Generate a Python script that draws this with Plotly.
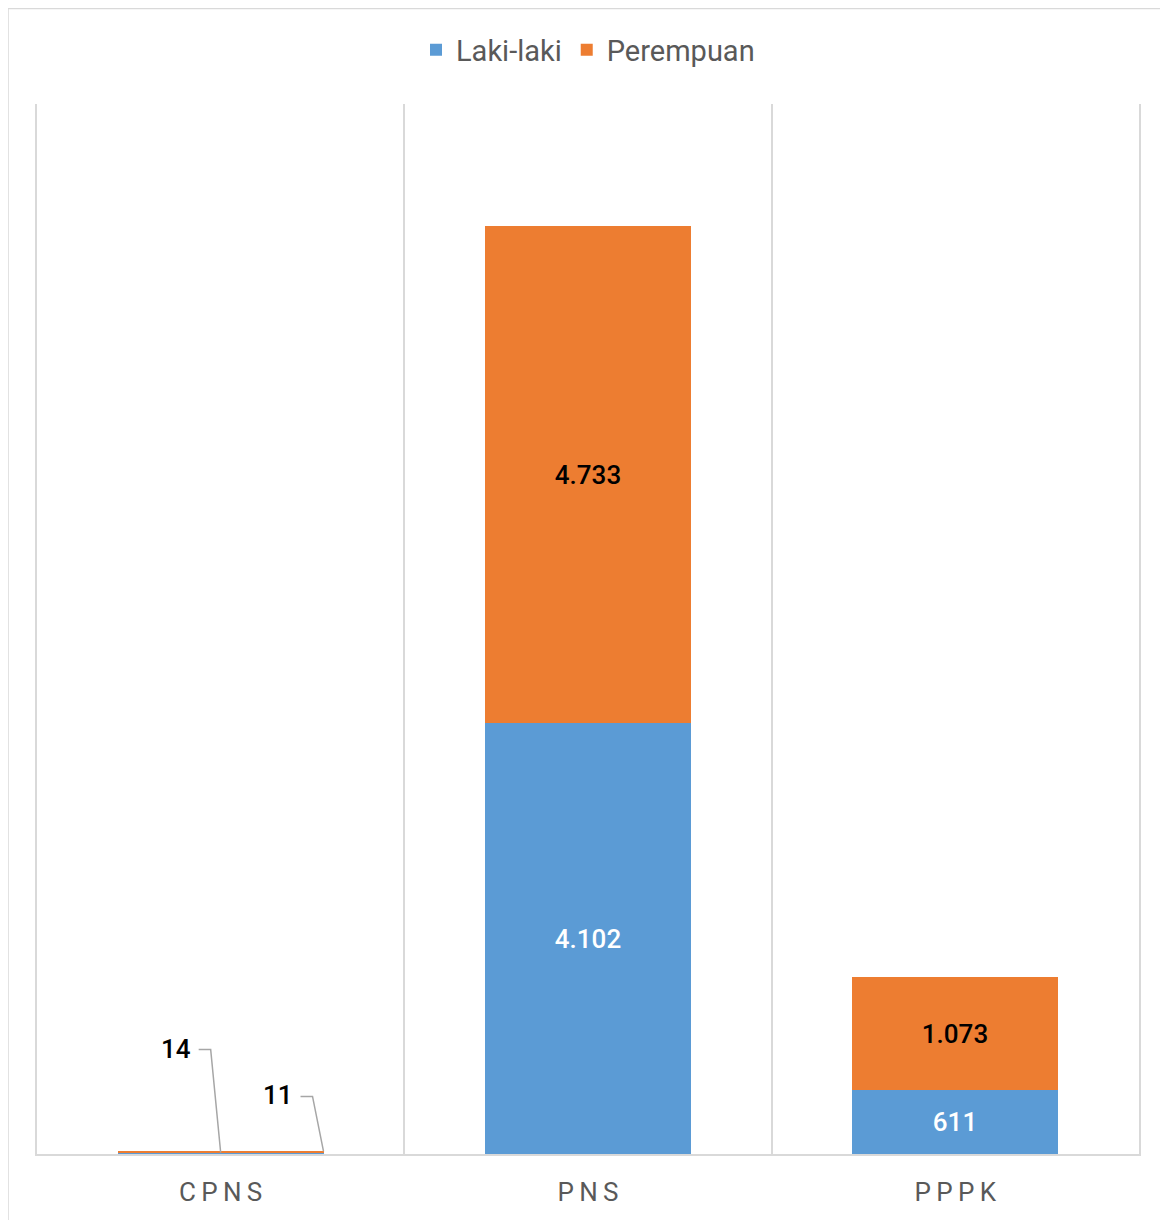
import plotly.graph_objects as go

categories = ["CPNS", "PNS", "PPPK"]
tick_labels = ["C\u2009P\u2009N\u2009S", "P\u2009N\u2009S", "P\u2009P\u2009P\u2009K"]
laki_laki = [14, 4102, 611]
perempuan = [11, 4733, 1073]
y_max = 10000

BAR_W = 0.56
FONT = "Roboto, Arial"
BLUE = "#5B9BD5"
ORANGE = "#ED7D31"
GRID = "#D9D9D9"

W, H = 1160, 1212
L, R, T, B = 29, 29, 96, 66
PW, PH = W - L - R, H - T - B

def fmt(v):
    return f"{v:,}".replace(",", ".")

xs = list(range(len(categories)))
show = [v >= 100 for v in laki_laki]

fig = go.Figure()
fig.add_trace(go.Bar(
    x=xs, y=laki_laki, name="Laki-laki", width=BAR_W,
    marker=dict(color=BLUE, line=dict(width=0)),
    text=[fmt(v) if s else "" for v, s in zip(laki_laki, show)],
    textposition="inside", insidetextanchor="middle",
    textfont=dict(color="white", size=26, family=FONT, weight=500),
    hoverinfo="skip",
))
fig.add_trace(go.Bar(
    x=xs, y=perempuan, name="Perempuan", width=BAR_W,
    marker=dict(color=ORANGE, line=dict(width=0)),
    text=[fmt(v) if s else "" for v, s in zip(perempuan, show)],
    textposition="inside", insidetextanchor="middle",
    textfont=dict(color="black", size=26, family=FONT, weight=500),
    hoverinfo="skip",
))

# CPNS small-value labels with leader lines
small = [
    (0, laki_laki[0], fmt(laki_laki[0]), 0.0, -10, 103),
    (0, laki_laki[0] + perempuan[0], fmt(perempuan[0]), BAR_W / 2, -11, 55),
]
for idx, yv, txt, dx_data, bend_x, bend_y in small:
    xa = idx + dx_data
    fig.add_shape(
        type="path", xref="x", yref="y",
        xsizemode="pixel", ysizemode="pixel",
        xanchor=xa, yanchor=yv,
        path=f"M 0,0 L {bend_x},{bend_y} L {bend_x - 12},{bend_y}",
        line=dict(color="#A6A6A6", width=1.5),
    )
    fig.add_annotation(
        x=xa, y=yv, xref="x", yref="y", text=txt, showarrow=False,
        xanchor="right", yanchor="middle",
        xshift=bend_x - 18, yshift=bend_y + 1,
        font=dict(color="black", size=26, family=FONT, weight=500),
    )

# outer chart border
fig.add_shape(type="rect", xref="paper", yref="paper",
              x0=(0 - L) / PW, x1=(W - 1 - L) / PW,
              y0=-0.2, y1=(H - B - 0.5) / PH,
              line=dict(color="#D9D9D9", width=1.5), layer="below")

fig.update_layout(
    barmode="stack",
    width=W, height=H,
    margin=dict(l=L, r=R, t=T, b=B),
    paper_bgcolor="white", plot_bgcolor="white",
    font=dict(family=FONT, color="#595959"),
    showlegend=True,
    legend=dict(orientation="h", x=0.5, xanchor="center",
                y=1 + (T - 42) / PH, yanchor="middle",
                bgcolor="rgba(0,0,0,0)",
                font=dict(size=29, color="#595959"),
                itemwidth=30, traceorder="normal"),
    bargap=0,
    xaxis=dict(
        range=[-0.5, len(categories) - 0.5],
        tickvals=xs, ticktext=tick_labels,
        tickfont=dict(size=26, color="#595959"),
        showgrid=False, zeroline=False,
        showline=True, linecolor=GRID, linewidth=1.5,
        ticks="", ticklabelstandoff=14,
        minor=dict(tickvals=[i - 0.5 for i in range(len(categories) + 1)],
                   showgrid=True, gridcolor=GRID, gridwidth=1.5, ticks=""),
        fixedrange=True,
    ),
    yaxis=dict(range=[0, y_max], showticklabels=False, showgrid=False,
               zeroline=False, ticks="", showline=True, mirror=True,
               linecolor=GRID, linewidth=1.5, fixedrange=True),
)

fig.write_html("out.html")
